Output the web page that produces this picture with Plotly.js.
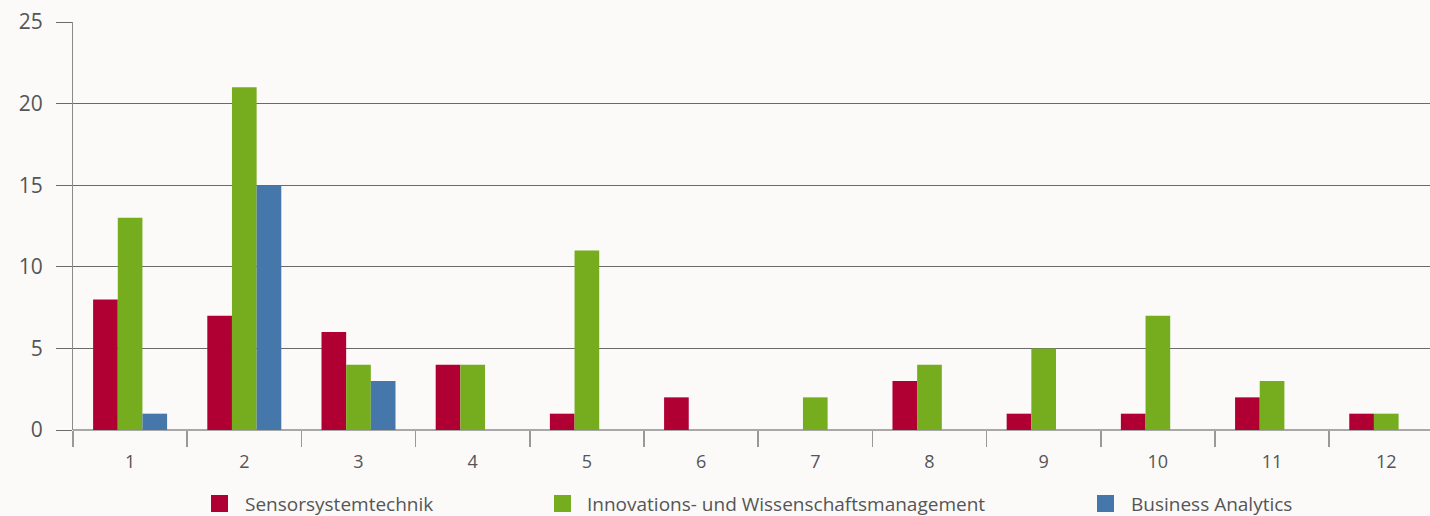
<!DOCTYPE html>
<html><head><meta charset="utf-8">
<script src="https://cdn.plot.ly/plotly-3.0.1.min.js"></script>
<style>html,body{margin:0;padding:0;background:#fbfaf9;}#chart{width:1430px;height:516px;}</style>
</head><body><div id="chart"></div>
<script>
const categories = [1,2,3,4,5,6,7,8,9,10,11,12];
const seriesNames = ["Sensorsystemtechnik","Innovations- und Wissenschaftsmanagement","Business Analytics"];
const sensorsystemtechnik = [8,7,6,4,1,2,0,3,1,1,2,1];
const innovations = [13,21,4,4,11,0,2,4,5,7,3,1];
const businessAnalytics = [1,15,3,0,0,0,0,0,0,0,0,0];
const colors = ["#b00033","#76ad1e","#4677ab"];
const yTicks = [0,5,10,15,20,25];

const traces = [sensorsystemtechnik, innovations, businessAnalytics].map((v,i)=>({
  type:'bar', x:categories, y:v, name:seriesNames[i],
  marker:{color:colors[i], line:{width:0}}, hoverinfo:'skip'
}));

// legend layout (pixel positions converted to paper coordinates)
const L = 73, W = 1357, B = 430, H = 408;
const px = p => (p - L) / W;
const py = p => (B - p) / H;
const legendSquareX = [211, 554, 1097];
const legendTextX = [243, 585, 1129];
const shapes = legendSquareX.map((x,i)=>({
  type:'rect', xref:'paper', yref:'paper', x0:px(x), x1:px(x+17), y0:py(512), y1:py(495),
  fillcolor:colors[i], line:{width:0}
}));
const annotations = legendTextX.map((x,i)=>({
  xref:'paper', yref:'paper', x:px(x), y:py(504), xanchor:'left', yanchor:'middle',
  text:seriesNames[i], showarrow:false, font:{size:19, color:'#555'}
}));

const boundaries = categories.map(c=>c-0.5);
const layout = {
  width:1430, height:516,
  paper_bgcolor:'#fbfaf9', plot_bgcolor:'#fbfaf9',
  margin:{l:73, r:0, t:22, b:86},
  barmode:'group', bargap:0.352, bargroupgap:0,
  font:{family:'"Open Sans", sans-serif', color:'#555'},
  xaxis:{
    range:[0.5, 12.383], tickvals:categories, ticktext:categories.map(String),
    ticks:'', showgrid:false, zeroline:false, showline:false, automargin:false,
    tickfont:{size:18, color:'#555'}, ticklabelstandoff:19,
    minor:{tickvals:boundaries, ticks:'outside', ticklen:16, tickcolor:'#999', tickwidth:1.5, showgrid:false}
  },
  yaxis:{
    range:[0,25], tickvals:yTicks, ticks:'outside', ticklen:16, tickcolor:'#6a6a6a', tickwidth:1,
    showgrid:true, gridcolor:'#6a6a6a', gridwidth:1, automargin:false,
    zeroline:true, zerolinecolor:'#a8a8a8', zerolinewidth:2,
    showline:true, linecolor:'#8a8a8a', linewidth:1,
    tickfont:{size:21, color:'#555'}, ticklabelstandoff:9
  },
  showlegend:false,
  shapes:shapes,
  annotations:annotations
};
Plotly.newPlot('chart', traces, layout, {staticPlot:true, displayModeBar:false});
</script></body></html>
